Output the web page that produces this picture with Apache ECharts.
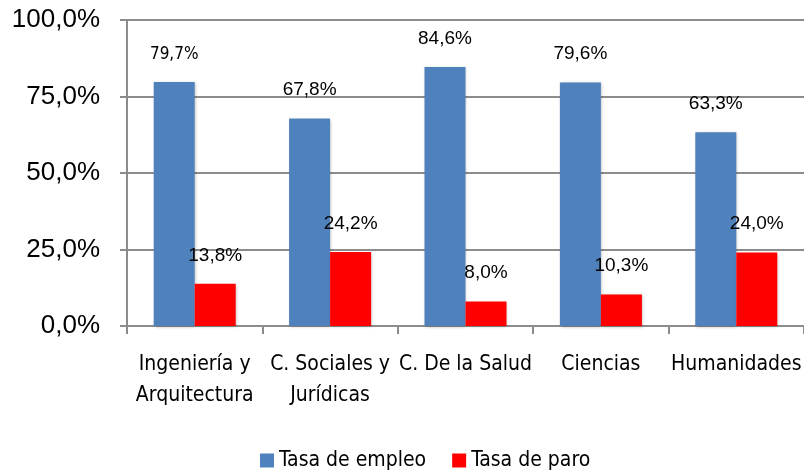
<!DOCTYPE html>
<html><head><meta charset="utf-8">
<script src="https://cdn.jsdelivr.net/npm/echarts@6/dist/echarts.min.js"></script>
<style>html,body{margin:0;padding:0;background:#fff}#c{width:804px;height:471px}</style>
</head><body><div id="c"></div>
<script>
var categories = ['Ingeniería y\nArquitectura', 'C. Sociales y\nJurídicas', 'C. De la Salud', 'Ciencias', 'Humanidades'];
var empleo = [79.7, 67.8, 84.6, 79.6, 63.3];
var paro = [13.8, 24.2, 8.0, 10.3, 24.0];
var seriesNames = ['Tasa de empleo', 'Tasa de paro'];
var yTicks = [0, 25, 50, 75, 100];

var condensed = '"Liberation Sans Narrow","DejaVu Sans Condensed","Open Sans",sans-serif';
var arial = '"Liberation Sans",Arial,sans-serif';
function fmt(v){ return v.toFixed(1).replace('.', ',') + '%'; }

var empleoData = empleo.map(function(v, i){
  var d = { value: v };
  if (i === 0) d.label = { fontFamily: condensed, fontSize: 17 };
  return d;
});

var chart = echarts.init(document.getElementById('c'));
chart.setOption({
  animation: false,
  grid: { left: 127, top: 20, width: 682, bottom: 145, containLabel: false },
  legend: {
    top: 445, left: 255, itemWidth: 14, itemHeight: 14, itemGap: 26,
    icon: 'rect',
    textStyle: { fontFamily: condensed, fontSize: 21, color: '#000' },
    data: seriesNames
  },
  xAxis: {
    type: 'category', data: categories,
    axisLine: { lineStyle: { color: '#8c8c8c', width: 2 } },
    axisTick: { show: true, length: 8, lineStyle: { color: '#8c8c8c', width: 2 } },
    axisLabel: { interval: 0, fontFamily: condensed, fontSize: 21, color: '#000', lineHeight: 31, margin: 23 }
  },
  yAxis: {
    type: 'value', min: 0, max: 100, interval: 25,
    axisLine: { show: true, lineStyle: { color: '#8c8c8c', width: 2 } },
    axisTick: { show: true, length: 7, lineStyle: { color: '#8c8c8c', width: 2 } },
    splitLine: { lineStyle: { color: '#8c8c8c', width: 2 } },
    axisLabel: { fontFamily: arial, fontSize: 26, color: '#000', margin: 27,
      formatter: function(v){ return fmt(v); } }
  },
  series: [
    { name: seriesNames[0], type: 'bar', data: empleoData, barWidth: 41, barGap: '0%',
      itemStyle: { color: '#4F81BD', shadowColor: 'rgba(0,0,0,0.25)', shadowBlur: 3, shadowOffsetX: 1, shadowOffsetY: 1 },
      label: { show: true, position: 'top', distance: 19, fontFamily: arial, fontSize: 19, color: '#000',
        formatter: function(p){ return fmt(p.value); } } },
    { name: seriesNames[1], type: 'bar', data: paro, barWidth: 41,
      itemStyle: { color: '#FF0000', shadowColor: 'rgba(0,0,0,0.25)', shadowBlur: 3, shadowOffsetX: 1, shadowOffsetY: 1 },
      label: { show: true, position: 'top', distance: 19, fontFamily: arial, fontSize: 19, color: '#000',
        formatter: function(p){ return fmt(p.value); } } }
  ]
});
</script></body></html>
